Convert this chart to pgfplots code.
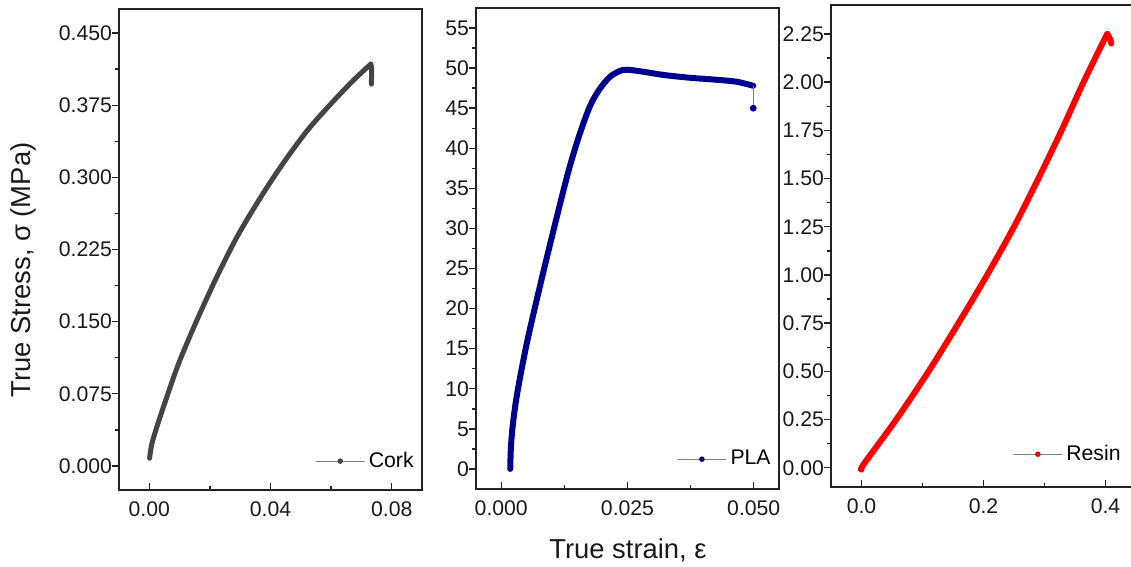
\documentclass[border=0pt]{standalone}
\usepackage{fontspec}
\setmainfont{Liberation Sans}
\usepackage{pgfplots}
\pgfplotsset{compat=1.18}

\definecolor{corkc}{RGB}{68,68,68}
\definecolor{plac}{RGB}{0,0,140}
\definecolor{resinc}{RGB}{255,0,0}
\definecolor{axc}{RGB}{35,35,35}

\pgfplotsset{
  panel/.style={
    scale only axis,
    width=151.5pt, height=240.5pt,
    axis line style={line width=0.9pt, axc},
    tick align=outside,
    xtick pos=bottom, ytick pos=left,
    major tick length=3.5pt, minor tick length=2.2pt,
    tick style={line width=0.7pt, axc},
    major x tick style={yshift=3.5pt},
    minor x tick style={yshift=2.2pt},
    minor x tick num=1, minor y tick num=1,
    ticklabel style={font=\fontsize{10.6}{12}\selectfont, text=black!90},
    xticklabel style={yshift=1pt},
    yticklabel style={xshift=3.5pt},
    /pgf/number format/assume math mode=true,
    scaled ticks=false,
    legend style={draw=none, fill=none, anchor=east, xshift=-2pt,
      font=\fontsize{10.6}{12}\selectfont, inner sep=0pt},
    legend cell align=left,
  },
  legimg/.style={legend image code/.code={
    \draw[gray, line width=0.6pt] (0pt,0pt) -- (24pt,0pt);
    \fill[#1, draw=none] (12pt,0pt) circle (1.4pt);}},
  curve/.style={line width=#1, line cap=round, line join=round},
}

\begin{document}
\begin{tikzpicture}

% Cork
\begin{axis}[panel, at={(59.5pt,38.5pt)}, anchor=south west,
  xmin=-0.01, xmax=0.09, ymin=-0.025, ymax=0.475,
  xtick={0,0.04,0.08}, ytick={0,0.075,0.15,0.225,0.3,0.375,0.45},
  xticklabel style={/pgf/number format/.cd, fixed, fixed zerofill, precision=2},
  yticklabel style={/pgf/number format/.cd, fixed, fixed zerofill, precision=3},
  legend style={at={(rel axis cs:1,0.06)}}]
\addplot[corkc, curve=2.5pt, smooth, tension=0.5, legimg=corkc] coordinates {
(0.0001,0.008) (0.0010,0.025) (0.0040,0.055) (0.0095,0.105) (0.0155,0.150)
(0.0225,0.198) (0.0300,0.244) (0.0410,0.300) (0.0525,0.350) (0.0655,0.395)
(0.0731,0.4177)};
\addlegendentry{Cork}
\addplot[corkc, curve=2.5pt, forget plot] coordinates {
(0.0731,0.4177) (0.0734,0.4140) (0.0733,0.3969)};
\end{axis}

% PLA
\begin{axis}[panel, at={(238pt,39pt)}, anchor=south west,
  xmin=-0.005, xmax=0.055, ymin=-2.5, ymax=57.5,
  xtick={0,0.025,0.05}, ytick={0,5,...,55},
  xticklabel style={/pgf/number format/.cd, fixed, fixed zerofill, precision=3},
  legend style={at={(rel axis cs:1,0.062)}}]
\addplot[plac, curve=3pt, smooth, tension=0.5, legimg=plac] coordinates {
(0.00178,0.0) (0.0019,2.5) (0.0022,5.0) (0.0028,8.0) (0.0036,11.0)
(0.0050,15.5) (0.0068,20.5) (0.0090,26.3) (0.0117,33.2) (0.0136,37.8)
(0.0156,41.9) (0.0176,45.3) (0.0195,47.4) (0.0215,48.9) (0.0235,49.65)
(0.0250,49.8) (0.0281,49.55) (0.0321,49.15) (0.0373,48.8) (0.0426,48.55)
(0.0466,48.3) (0.0499,47.8)};
\addlegendentry{PLA}
\addplot[gray, line width=0.6pt, mark=*, mark size=1.4pt, mark indices={2},
  mark options={plac, draw=plac}, forget plot] coordinates {
(0.0499,47.8) (0.0499,45.0)};
\end{axis}

% Resin
\begin{axis}[panel, at={(415.5pt,40pt)}, anchor=south west,
  width=152.5pt, height=241pt,
  xmin=-0.05, xmax=0.45, ymin=-0.1, ymax=2.4,
  xtick={0,0.2,0.4}, ytick={0,0.25,...,2.25},
  xticklabel style={/pgf/number format/.cd, fixed, fixed zerofill, precision=1},
  yticklabel style={/pgf/number format/.cd, fixed, fixed zerofill, precision=2},
  legend style={at={(rel axis cs:1,0.068)}, xshift=-3.5pt}]
\addplot[resinc, curve=3pt, smooth, tension=0.5, legimg=resinc] coordinates {
(0.000,-0.01) (0.004,0.02) (0.057,0.25) (0.110,0.50) (0.159,0.75)
(0.206,1.00) (0.250,1.25) (0.290,1.50) (0.328,1.75) (0.364,2.00)
(0.398,2.22) (0.403,2.25)};
\addlegendentry{Resin}
\addplot[resinc, curve=3pt, forget plot] coordinates {
(0.403,2.25) (0.408,2.22) (0.4095,2.20)};
\end{axis}

\node[rotate=90, font=\fontsize{13.7}{16}\selectfont, text=black!90] at (11.5pt,148.5pt) {True Stress, σ (MPa)};
\node[anchor=base, font=\fontsize{13.7}{16}\selectfont, text=black!90] at (314pt,4pt) {True strain, ε};

\pgfresetboundingbox
\useasboundingbox (0,0) rectangle (565.5pt,283.5pt);
\end{tikzpicture}
\end{document}
